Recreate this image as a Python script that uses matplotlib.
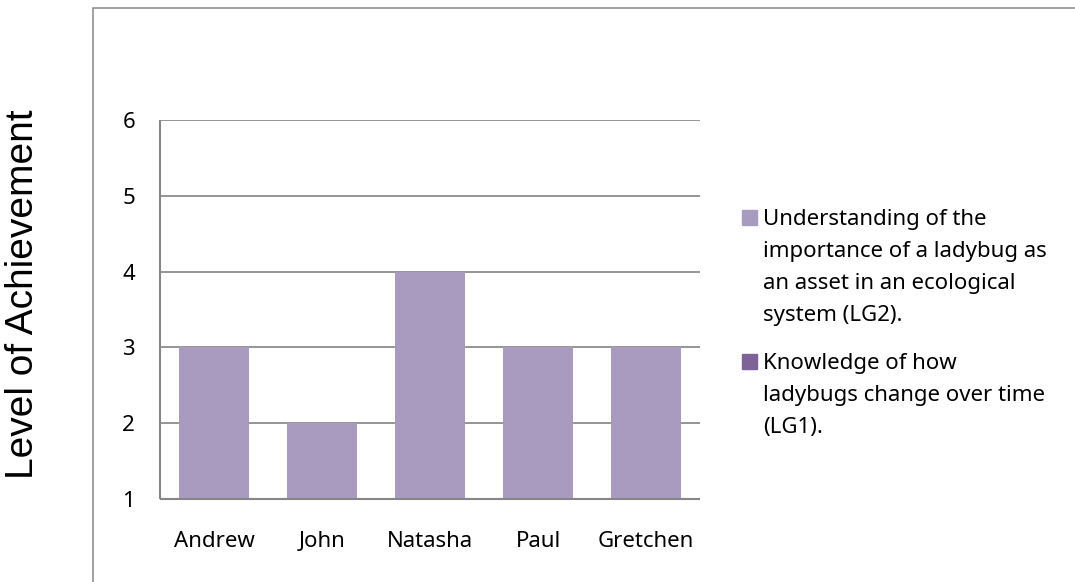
import matplotlib.pyplot as plt
from matplotlib.patches import Rectangle

# === DATA ===
students = ["Andrew", "John", "Natasha", "Paul", "Gretchen"]
lg2_values = [3, 2, 4, 3, 3]   # Understanding of the importance of a ladybug (LG2)
lg1_values = [0, 0, 0, 0, 0]   # Knowledge of how ladybugs change (LG1) - nothing drawn
y_ticks = [1, 2, 3, 4, 5, 6]
y_label = "Level of Achievement"
legend_lines = [
    ["Understanding of the", "importance of a ladybug as",
     "an asset in an ecological", "system (LG2)."],
    ["Knowledge of how", "ladybugs change over time", "(LG1)."],
]

# === STYLE ===
LG2_COLOR = "#A89BBF"
LG1_COLOR = "#7F6297"
GRID_COLOR = "#8C8C8C"
FONT = "Noto Sans"

W, H = 1075, 582
fig = plt.figure(figsize=(W / 100, H / 100), dpi=100)

# outer chart frame (cut off at right and bottom)
fig.patches.append(Rectangle((93 / W, -0.2), 1.2, (582 - 8) / H + 0.2,
                             transform=fig.transFigure, fill=False,
                             edgecolor="#888888", linewidth=1.1))

ax = fig.add_axes([160 / W, (H - 499) / H, 540 / W, 379 / H])
x = range(len(students))
ax.bar(x, lg2_values, width=0.64, color=LG2_COLOR, zorder=2)
ax.bar(x, lg1_values, bottom=lg2_values, width=0.64, color=LG1_COLOR, zorder=2)

ax.set_ylim(1, 6)
ax.set_xlim(-0.5, len(students) - 0.5)
ax.set_yticks(y_ticks)
ax.set_xticks(list(x))
ax.set_xticklabels(students)
ax.yaxis.grid(True, color=GRID_COLOR, linewidth=1.3, zorder=1)
ax.set_axisbelow(True)
for side in ["top", "right"]:
    ax.spines[side].set_visible(False)
for side in ["left", "bottom"]:
    ax.spines[side].set_color("#868686")
    ax.spines[side].set_linewidth(1.5)
    ax.spines[side].set_zorder(3)
    ax.spines[side].set_capstyle("butt")
ax.tick_params(axis="y", length=0, pad=18, labelsize=16)
ax.tick_params(axis="x", length=0, pad=23, labelsize=16)
for lab in ax.get_xticklabels() + ax.get_yticklabels():
    lab.set_family(FONT)

fig.text(23 / W, (H - 294) / H, y_label, rotation=90, ha="center", va="center",
         family="Liberation Sans", fontsize=28)

# legend, drawn by hand so the marker sits on the first line
colors = [LG2_COLOR, LG1_COLOR]
first_baselines = [225, 369]
pitch = 32
for lines, color, y0 in zip(legend_lines, colors, first_baselines):
    fig.patches.append(Rectangle((742 / W, (H - y0) / H), 15 / W, 15 / H,
                                 transform=fig.transFigure, color=color))
    for i, line in enumerate(lines):
        fig.text(763 / W, (H - (y0 + i * pitch)) / H, line, ha="left",
                 va="baseline", family=FONT, fontsize=16)

fig.savefig("out.png", dpi=100)
